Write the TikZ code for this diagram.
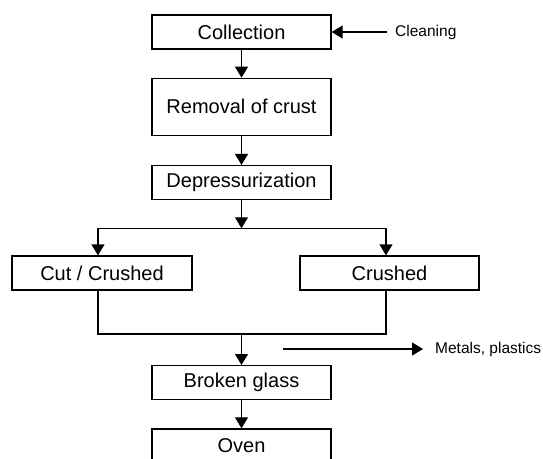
\documentclass[tikz,border=0pt]{standalone}
\usepackage{fontspec}
\setmainfont{Liberation Sans}
\usetikzlibrary{arrows.meta,calc,positioning}
\tikzset{
  stage/.style={
    draw=black,
    line width=1.3pt,
    align=center,
    minimum width=179pt,
    minimum height=34pt,
    inner sep=0pt,
    font=\fontsize{20}{24}\selectfont
  },
  note/.style={
    inner sep=0pt,
    font=\fontsize{15.5}{18}\selectfont
  },
  link/.style={
    line width=1.3pt
  },
  arrow/.style={
    -{Triangle[length=11pt,width=13pt]},
    line width=1.3pt
  }
}

\begin{document}
\begin{tikzpicture}[x=1pt,y=1pt,node distance=28pt]
\useasboundingbox (0,0) rectangle (543,-458);
\clip (0,0) rectangle (543,-458);
\node[stage] (coll) at (241.5,-32) {Collection};
\node[stage,minimum height=57pt,below=28pt of coll] (crust) {Removal of crust};
\node[stage,below=29pt of crust] (depr) {Depressurization};
\coordinate[below=28pt of depr] (split);
\node[stage,minimum width=180pt] (cut) at (102,-273) {Cut / Crushed};
\node[stage] (crushed) at (389.5,-273) {Crushed};
\coordinate (left) at ([xshift=-4pt]cut.north |- split);
\coordinate (right) at ([xshift=-3.5pt]crushed.north |- split);
\coordinate (join) at (241.5,-334);
\node[stage,below=31pt of join] (glass) {Broken glass};
\node[stage,below=28pt of glass] (oven) {Oven};
\node[note,anchor=west] (clean) at (395,-32) {Cleaning};
\node[note,anchor=west] (metals) at (435,-349) {Metals, plastics};
\coordinate (sort) at (283,-349);
\draw[arrow,shorten <=8pt] (clean) -- (coll);
\draw[arrow] (coll) -- (crust);
\draw[arrow] (crust) -- (depr);
\draw[arrow] (depr) -- (split);
\draw[link,line cap=rect] (left) -- (right);
\draw[arrow] (left) -- (left |- cut.north);
\draw[arrow] (right) -- (right |- crushed.north);
\draw[link] (left |- cut.south) |- (join) -| (right |- crushed.south);
\draw[arrow] (join) -- (glass);
\draw[arrow,shorten >=12pt] (sort) -- (metals);
\draw[arrow] (glass) -- (oven);
\end{tikzpicture}
\end{document}
